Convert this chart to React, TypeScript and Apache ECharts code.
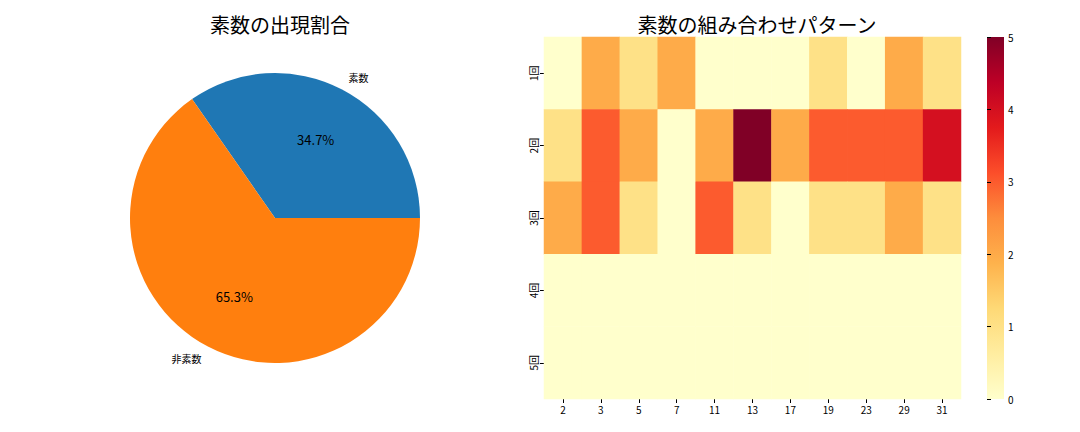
import React, { useEffect, useRef } from "react";
import * as echarts from "echarts";

// 円グラフ: 素数 / 非素数 の個数
const pieLabels = ["素数", "非素数"];
const pieCounts = [17, 32];
const pieColors = ["#1f77b4", "#ff7f0e"];

// ヒートマップ
const primes = ["2", "3", "5", "7", "11", "13", "17", "19", "23", "29", "31"];
const rounds = ["1回", "2回", "3回", "4回", "5回"];
const round1 = [0, 2, 1, 2, 0, 0, 0, 1, 0, 2, 1];
const round2 = [1, 3, 2, 0, 2, 5, 2, 3, 3, 3, 4];
const round3 = [2, 3, 1, 0, 3, 1, 0, 1, 1, 2, 1];
const round4 = [0, 0, 0, 0, 0, 0, 0, 0, 0, 0, 0];
const round5 = [0, 0, 0, 0, 0, 0, 0, 0, 0, 0, 0];

const ylOrRd = [
  "#ffffcc", "#ffeda0", "#fed976", "#feb24c", "#fd8d3c",
  "#fc4e2a", "#e31a1c", "#bd0026", "#800026",
];

const FONT = "Noto Sans CJK JP, sans-serif";

export default function App() {
  const chartRef = useRef<HTMLDivElement>(null);

  useEffect(() => {
    if (!chartRef.current) return;
    const chart = echarts.init(chartRef.current, undefined, { renderer: "svg" });

    const matrix = [round1, round2, round3, round4, round5];
    const heatData: number[][] = [];
    matrix.forEach((row, r) => {
      row.forEach((v, c) => heatData.push([c, r, v]));
    });

    const pieData = pieLabels.map((name, i) => ({
      name,
      value: pieCounts[i],
      itemStyle: { color: pieColors[i] },
    }));

    // カラーバー (下から上へ)
    const barGradient = new echarts.graphic.LinearGradient(
      0, 1, 0, 0,
      ylOrRd.map((color, i) => ({ offset: i / (ylOrRd.length - 1), color }))
    );

    const option: echarts.EChartsOption = {
      animation: false,
      backgroundColor: "#ffffff",
      textStyle: { fontFamily: FONT },
      title: [
        {
          text: "素数の出現割合",
          left: 275,
          top: 9,
          textAlign: "center",
          textStyle: { fontSize: 20, fontWeight: "normal", color: "#000", fontFamily: FONT },
        },
        {
          text: "素数の組み合わせパターン",
          left: 752,
          top: 9,
          textAlign: "center",
          textStyle: { fontSize: 20, fontWeight: "normal", color: "#000", fontFamily: FONT },
        },
      ],
      grid: [
        { left: 544, top: 37, width: 417, height: 362 },
        {
          left: 987,
          top: 37,
          width: 17,
          height: 362,
          show: true,
          backgroundColor: barGradient as any,
          borderWidth: 0,
        },
      ],
      xAxis: [
        {
          type: "category",
          gridIndex: 0,
          data: primes,
          axisLine: { show: false },
          axisTick: { show: true, alignWithLabel: true, length: 4, lineStyle: { color: "#000" } },
          axisLabel: { color: "#000", fontSize: 10, margin: 5 },
          splitLine: { show: false },
        },
        {
          type: "value",
          gridIndex: 1,
          min: 0,
          max: 1,
          axisLine: { show: false },
          axisTick: { show: false },
          axisLabel: { show: false },
          splitLine: { show: false },
        },
      ],
      yAxis: [
        {
          type: "category",
          gridIndex: 0,
          data: rounds,
          inverse: true,
          axisLine: { show: false },
          axisTick: { show: true, alignWithLabel: true, length: 4, lineStyle: { color: "#000" } },
          axisLabel: { color: "#000", fontSize: 10, rotate: 90, margin: 6 },
          splitLine: { show: false },
        },
        {
          type: "value",
          gridIndex: 1,
          position: "right",
          min: 0,
          max: 5,
          interval: 1,
          axisLine: { show: false },
          axisTick: { show: true, length: 4, lineStyle: { color: "#000" } },
          axisLabel: { color: "#000", fontSize: 10, margin: 4 },
          splitLine: { show: false },
        },
      ],
      visualMap: {
        type: "continuous",
        show: false,
        min: 0,
        max: 5,
        seriesIndex: 2,
        inRange: { color: ylOrRd },
      },
      series: [
        {
          type: "pie",
          center: [275, 218],
          radius: 145,
          startAngle: 0,
          clockwise: false,
          avoidLabelOverlap: false,
          data: pieData,
          label: {
            show: true,
            position: "outside",
            formatter: "{b}",
            fontSize: 10,
            color: "#000",
            distanceToLabelLine: 0,
          },
          labelLine: { show: false, length: 14, length2: 0 },
          emphasis: { disabled: true },
          silent: true,
        },
        {
          type: "pie",
          center: [275, 218],
          radius: [56, 114],
          startAngle: 0,
          clockwise: false,
          avoidLabelOverlap: false,
          data: pieData.map((d) => ({ ...d, itemStyle: { color: "rgba(0,0,0,0)" } })),
          label: {
            show: true,
            position: "inside",
            formatter: (p: any) => `${p.percent.toFixed(1)}%`,
            fontSize: 13,
            color: "#000",
          },
          labelLine: { show: false },
          emphasis: { disabled: true },
          silent: true,
        },
        {
          type: "heatmap",
          xAxisIndex: 0,
          yAxisIndex: 0,
          data: heatData,
          itemStyle: { borderWidth: 0 },
          emphasis: { disabled: true },
        },
      ],
    };

    chart.setOption(option);
    return () => chart.dispose();
  }, []);

  return (
    <div
      ref={chartRef}
      style={{ position: "fixed", left: 0, top: 0, width: 1080, height: 432 }}
    />
  );
}
